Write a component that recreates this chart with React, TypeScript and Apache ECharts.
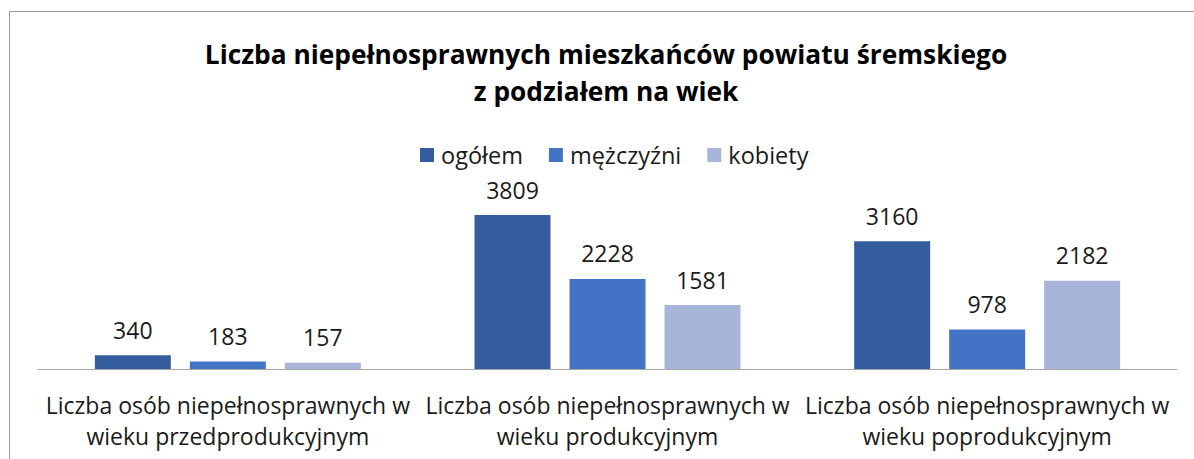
import React, { useEffect, useRef } from "react";
import * as echarts from "echarts";

const categories = [
  "Liczba osób niepełnosprawnych w\nwieku przedprodukcyjnym",
  "Liczba osób niepełnosprawnych w\nwieku produkcyjnym",
  "Liczba osób niepełnosprawnych w\nwieku poprodukcyjnym",
];
const seriesNames = ["ogółem", "mężczyźni", "kobiety"];
const ogolem = [340, 3809, 3160];
const mezczyzni = [183, 2228, 978];
const kobiety = [157, 1581, 2182];
const colors = ["#345C9F", "#4472C4", "#A8B5DA"];

const FONT = "'Open Sans', 'DejaVu Sans', sans-serif";

export default function App() {
  const ref = useRef<HTMLDivElement>(null);
  useEffect(() => {
    if (!ref.current) return;
    const chart = echarts.init(ref.current, undefined, { renderer: "svg" });
    const values = [ogolem, mezczyzni, kobiety];
    chart.setOption({
      animation: false,
      backgroundColor: "#ffffff",
      textStyle: { fontFamily: FONT },
      title: {
        text: "Liczba niepełnosprawnych mieszkańców powiatu śremskiego\nz podziałem na wiek",
        left: 601,
        textAlign: "center",
        top: 30,
        textStyle: {
          fontFamily: FONT,
          fontWeight: "bold",
          fontSize: 26.3,
          lineHeight: 37,
          color: "#000000",
        },
      },
      legend: {
        data: seriesNames,
        left: 415,
        top: 138,
        icon: "rect",
        itemWidth: 14,
        itemHeight: 14,
        itemGap: 26,
        textStyle: { fontFamily: FONT, fontSize: 23.5, color: "#1a1a1a", padding: [0, 0, 0, 2] },
      },
      graphic: [
        {
          type: "rect",
          shape: { x: 9.5, y: 11.5, width: 1400, height: 800 },
          style: { fill: "none", stroke: "#9a9a9a", lineWidth: 1 },
          silent: true,
        },
      ],
      grid: { left: 38, right: 17, top: 207.3, bottom: 90 },
      xAxis: {
        type: "category",
        data: categories,
        axisTick: { show: false },
        axisLine: { lineStyle: { color: "#a6a6a6", width: 1 } },
        axisLabel: {
          fontFamily: FONT,
          fontSize: 23,
          lineHeight: 31,
          color: "#1a1a1a",
          margin: 20,
          interval: 0,
        },
      },
      yAxis: {
        type: "value",
        min: 0,
        max: 4000,
        show: false,
        splitLine: { show: false },
      },
      series: seriesNames.map((name, i) => ({
        name,
        type: "bar",
        data: values[i],
        barWidth: 76,
        barGap: "25%",
        itemStyle: { color: colors[i] },
        label: {
          show: true,
          position: "top",
          distance: 14,
          fontFamily: FONT,
          fontSize: 23,
          color: "#1a1a1a",
        },
      })),
    });
    return () => chart.dispose();
  }, []);
  return (
    <div
      ref={ref}
      style={{ position: "fixed", left: 0, top: 0, width: 1194, height: 459, background: "#fff" }}
    />
  );
}
